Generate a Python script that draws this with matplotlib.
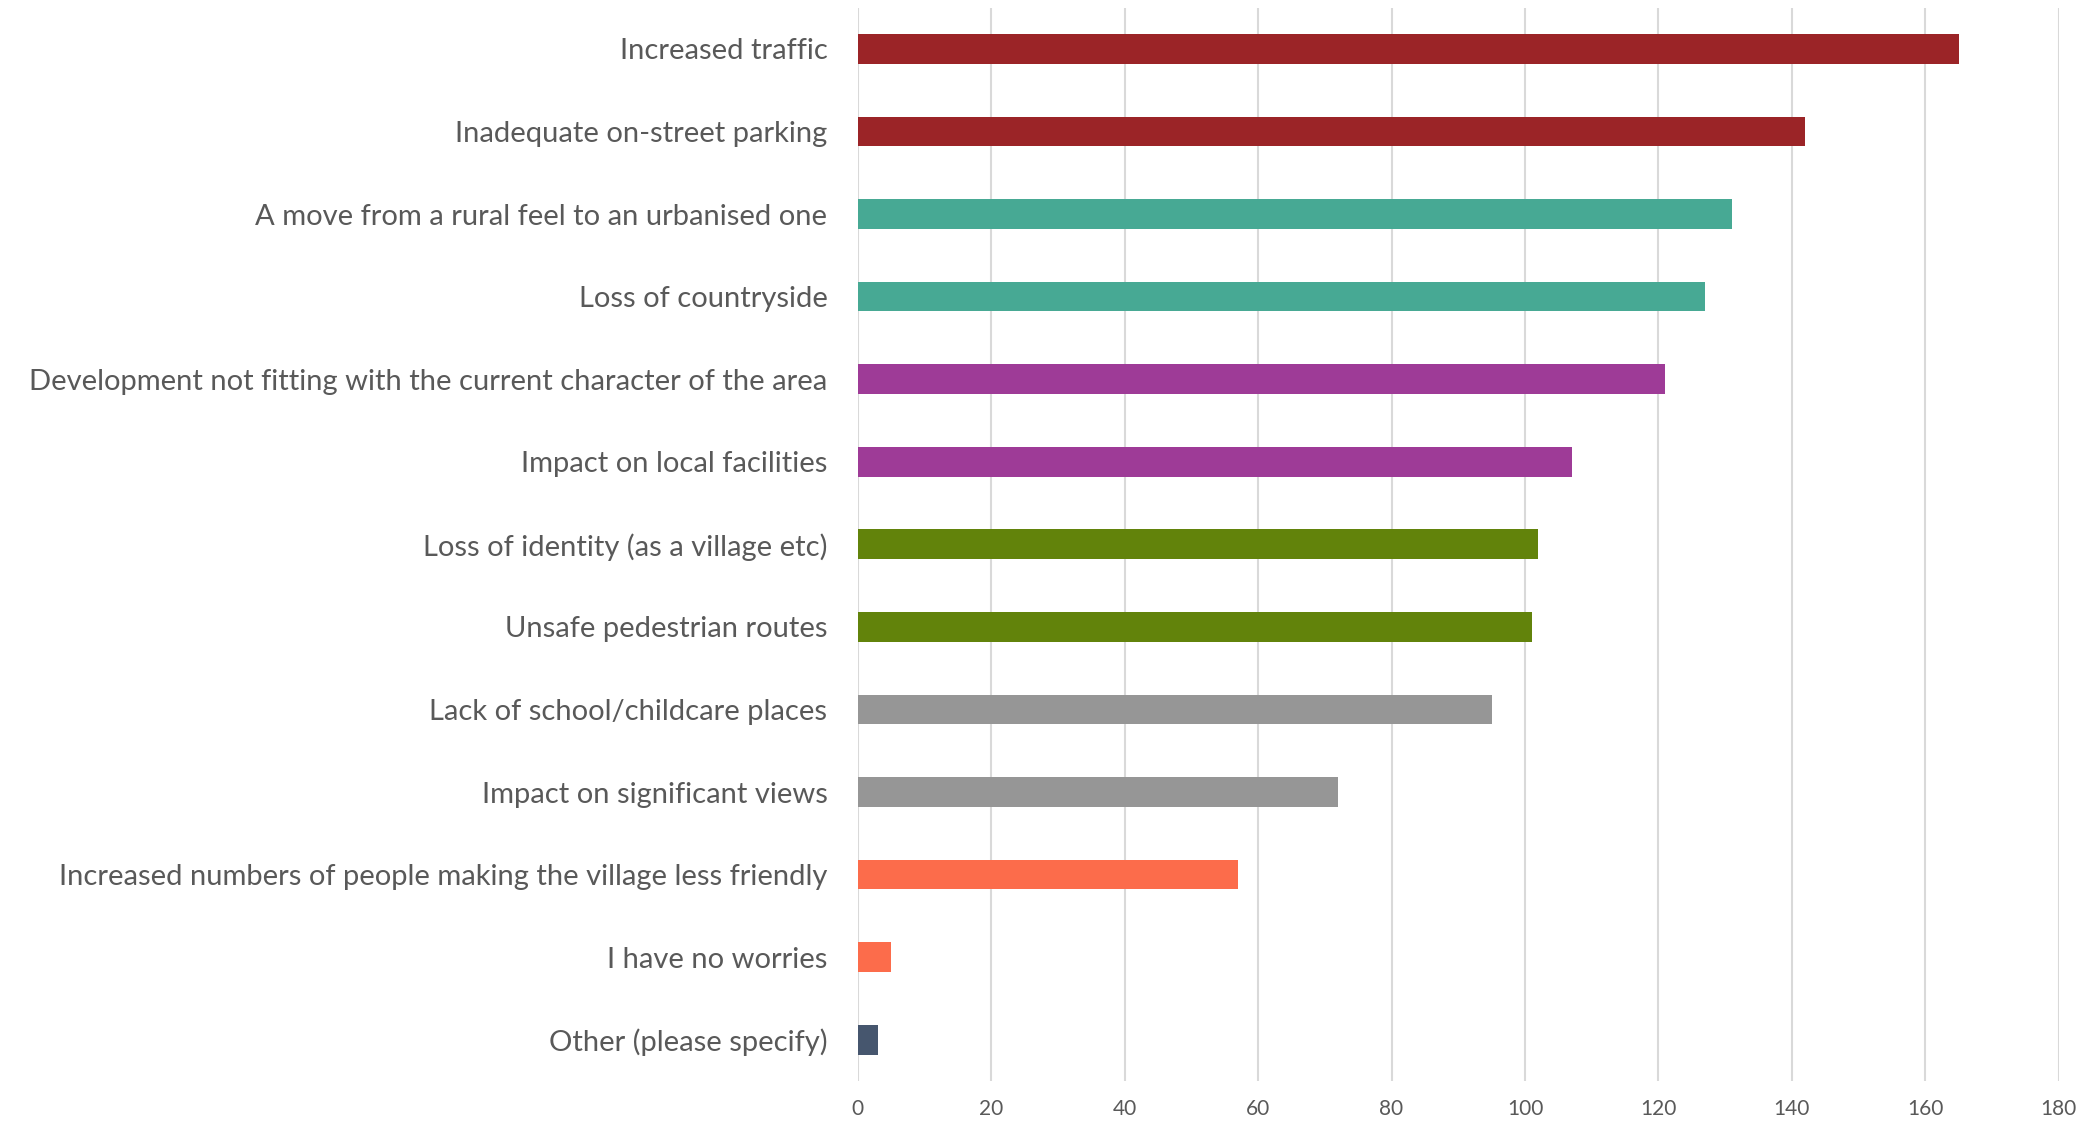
import numpy as np
import matplotlib.pyplot as plt

categories = [
    'Increased traffic',
    'Inadequate on-street parking',
    'A move from a rural feel to an urbanised one',
    'Loss of countryside',
    'Development not fitting with the current character of the area',
    'Impact on local facilities',
    'Loss of identity (as a village etc)',
    'Unsafe pedestrian routes',
    'Lack of school/childcare places',
    'Impact on significant views',
    'Increased numbers of people making the village less friendly',
    'I have no worries',
    'Other (please specify)',
]
values = [165, 142, 131, 127, 121, 107, 102, 101, 95, 72, 57, 5, 3]
colors = ['#9B2427', '#9B2427', '#47A994', '#47A994', '#9E3B97', '#9E3B97',
          '#62830B', '#62830B', '#969696', '#969696', '#FC6C4B', '#FC6C4B',
          '#46566E']
xticks = list(range(0, 181, 20))

plt.rcParams['font.family'] = ['Lato', 'DejaVu Sans']
fig = plt.figure(figsize=(20.91, 11.25), dpi=100)
ax = fig.add_axes([0.4103, 0.0391, 0.5742, 0.9541])

y = np.arange(len(categories))
ax.barh(y, values, height=0.36, color=colors, zorder=3)
ax.set_ylim(len(categories) - 0.5, -0.5)
ax.set_xlim(0, 180)
ax.set_xticks(xticks)
ax.set_yticks(y)
ax.set_yticklabels(categories, size=21, color='#595959')
ax.tick_params(axis='x', labelsize=15, labelcolor='#595959', length=0, pad=13)
ax.tick_params(axis='y', length=0, pad=22)
ax.grid(axis='x', color='#D9D9D9', linewidth=1.5, zorder=0)
for s in ax.spines.values():
    s.set_visible(False)

fig.savefig('out.png', dpi=100)
